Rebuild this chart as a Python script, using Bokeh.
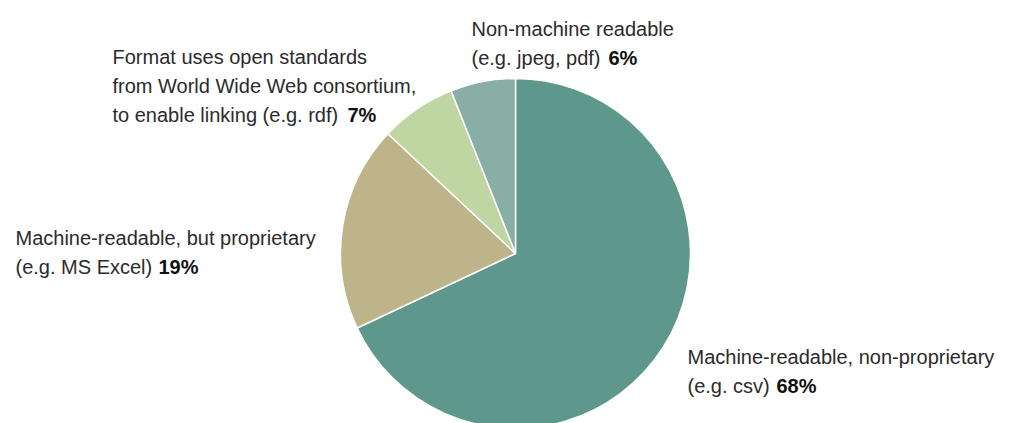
import math

from bokeh.core.properties import value
from bokeh.embed import file_html
from bokeh.models import ColumnDataSource, Range1d
from bokeh.plotting import figure
from bokeh.resources import INLINE

# Share of datasets by file format (percent), clockwise from 12 o'clock
categories = [
    "Machine-readable, non-proprietary",
    "Machine-readable, but proprietary",
    "Format uses open standards from W3C",
    "Non-machine readable",
]
shares = [68, 19, 7, 6]
colors = ["#5e978b", "#bdb48a", "#bfd6a3", "#89aea5"]

# Label text, line by line; the last line is followed by the bold share
label_lines = [
    ["Machine-readable, non-proprietary", "(e.g. csv)"],
    ["Machine-readable, but proprietary", "(e.g. MS Excel)"],
    ["Format uses open standards", "from World Wide Web consortium,",
     "to enable linking (e.g. rdf)"],
    ["Non-machine readable", "(e.g. jpeg, pdf)"],
]

W, H = 1019, 423
CX, CY, R = 515, H - 253, 175
LINE_H = 29
FONT = "Liberation Sans"
SIZE = "20px"

# Label anchors: left x, first baseline (from top), x where the bold share starts
label_x = [687, 15, 112, 471]
label_top = [356, 237, 56, 28]
bold_x = [776, 158, 347, 608]

p = figure(width=W, height=H, output_backend="svg", toolbar_location=None,
           x_range=Range1d(0, W), y_range=Range1d(0, H),
           min_border=0, outline_line_color=None,
           background_fill_color="white", border_fill_color="white")
p.axis.visible = False
p.grid.visible = False

# Pie wedges, clockwise from the top
starts, ends = [], []
cum = 0.0
total = float(sum(shares))
for s in shares:
    starts.append(math.pi / 2 - 2 * math.pi * cum / total)
    cum += s
    ends.append(math.pi / 2 - 2 * math.pi * cum / total)

pie = ColumnDataSource(dict(x=[CX] * len(shares), y=[CY] * len(shares),
                            start=starts, end=ends, color=colors,
                            name=categories))
p.wedge(x="x", y="y", radius=R, start_angle="start", end_angle="end",
        direction="clock", fill_color="color", line_color="white",
        line_width=1.5, source=pie)

# Plain label text
tx, ty, tt = [], [], []
for lines, x0, top in zip(label_lines, label_x, label_top):
    for i, line in enumerate(lines):
        tx.append(x0)
        ty.append(H - (top + i * LINE_H))
        tt.append(line)
p.text(x=tx, y=ty, text=tt, text_font=value(FONT), text_font_size=SIZE,
       text_color="#2b2b2b", text_align="left", text_baseline="alphabetic")

# Bold share values on the last line of each label
bx, by, bt = [], [], []
for lines, s, xb, top in zip(label_lines, shares, bold_x, label_top):
    bx.append(xb)
    by.append(H - (top + (len(lines) - 1) * LINE_H))
    bt.append(f"{s}%")
p.text(x=bx, y=by, text=bt, text_font=value(FONT), text_font_size=SIZE,
       text_font_style="bold", text_color="#111111", text_align="left",
       text_baseline="alphabetic")

open("out.html", "w").write(file_html(p, INLINE))
